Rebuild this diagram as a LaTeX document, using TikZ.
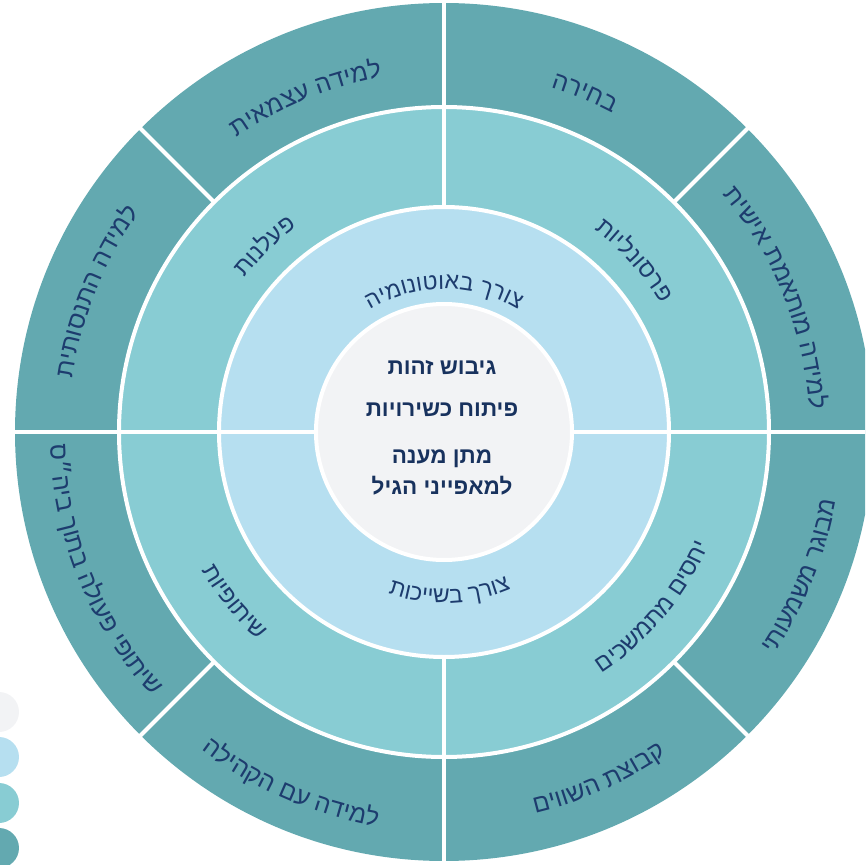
\documentclass[tikz,border=0pt]{standalone}
\usepackage{fontspec}
\newfontfamily\hebfont[Script=Hebrew]{Liberation Sans}
\TeXXeTstate=1
\usepackage{tikz}
\usetikzlibrary{decorations.text}
\usepackage{xcolor}
\definecolor{xouter}{HTML}{63A9B0}
\definecolor{xmid}{HTML}{88CCD3}
\definecolor{xinner}{HTML}{B6DFF0}
\definecolor{xcore}{HTML}{F2F3F5}
\definecolor{xnavy}{HTML}{1D3C6E}
\definecolor{xdeep}{HTML}{18325E}
\newcommand{\outerfont}{\hebfont\fontsize{25}{29}\selectfont}
\newcommand{\midfont}{\hebfont\fontsize{24}{28}\selectfont}
\newcommand{\innerfont}{\hebfont\fontsize{23}{27}\selectfont}
\tikzset{
	gap/.style={white, line width=4pt},
	arctext/.style={decorate, decoration={text along path, text align=center, text color=xnavy, text={#1}}},
	core text/.style={font=\hebfont\bfseries\fontsize{22.5}{31}\selectfont, text=xdeep, align=center},
}

\begin{document}
\begin{tikzpicture}[x=1pt, y=1pt]
			\clip (-444,-433) rectangle (421,432);

			\fill[xouter] (0,0) circle (429pt);
			\fill[xmid] (0,0) circle (325pt);
			\fill[xinner] (0,0) circle (225pt);
			\fill[xcore] (0,0) circle (128pt);

			\draw[gap] (0,0) circle (325pt);
			\draw[gap] (0,0) circle (225pt);
			\draw[gap] (0,0) circle (128pt);
			\draw[gap] (128,0) -- (432,0);
			\draw[gap] (-128,0) -- (-432,0);
			\draw[gap] (0,225) -- (0,432);
			\draw[gap] (0,-225) -- (0,-432);
			\foreach \a in {45,135,225,315}
				\draw[gap] (\a:325) -- (\a:432);

			\path[arctext={|\outerfont|תיאמצע הדימל}] (152.5:360) arc[start angle=152.5, end angle=72.5, radius=360pt];
			\path[arctext={|\outerfont|הריחב}] (107.5:361) arc[start angle=107.5, end angle=27.5, radius=361pt];
			\path[arctext={|\outerfont|תישיא תמאתומ הדימל}] (62:366) arc[start angle=62, end angle=-18, radius=366pt];
			\path[arctext={|\outerfont|תיתוסנתה הדימל}] (198:375) arc[start angle=198, end angle=118, radius=375pt];
			\path[arctext={|\outerfont|יתועמשמ רגובמ}] (298:398) arc[start angle=298, end angle=378, radius=398pt];
			\path[arctext={|\outerfont|םיוושה תצובק}] (254:392) arc[start angle=254, end angle=334, radius=392pt];
			\path[arctext={|\outerfont|הליהקה םע הדימל}] (206.5:400) arc[start angle=206.5, end angle=286.5, radius=400pt];
			\path[arctext={|\outerfont|ס״היב ךותב הלועפ יפותיש}] (162:394) arc[start angle=162, end angle=242, radius=394pt];

			\path[arctext={|\midfont|תונלעפ}] (174:252) arc[start angle=174, end angle=94, radius=252pt];
			\path[arctext={|\midfont|תוילנוסרפ}] (82:252) arc[start angle=82, end angle=2, radius=252pt];
			\path[arctext={|\midfont|םיכשמתמ םיסחי}] (280:288) arc[start angle=280, end angle=360, radius=288pt];
			\path[arctext={|\midfont|תויפותיש}] (179:279) arc[start angle=179, end angle=259, radius=279pt];

			\path[arctext={|\innerfont|הימונוטואב ךרוצ}] (150:143) arc[start angle=150, end angle=30, radius=143pt];
			\path[arctext={|\innerfont|תוכיישב ךרוצ}] (212:171) arc[start angle=212, end angle=332, radius=171pt];

			\node[core text] (identity) at (-2,64) {\beginR גיבוש זהות\endR};
			\node[core text] (skills) at (-2,22) {\beginR פיתוח כשירויות\endR};
			\node[core text] (agefit) at (-2,-40) {\beginR מתן מענה\endR\\\beginR למאפייני הגיל\endR};

			\fill[xcore] (-445,-280) circle (20pt);
			\fill[xinner] (-445,-325) circle (20pt);
			\fill[xmid] (-445,-371) circle (20pt);
			\fill[xouter] (-445,-416) circle (20pt);
		\end{tikzpicture}
\end{document}
